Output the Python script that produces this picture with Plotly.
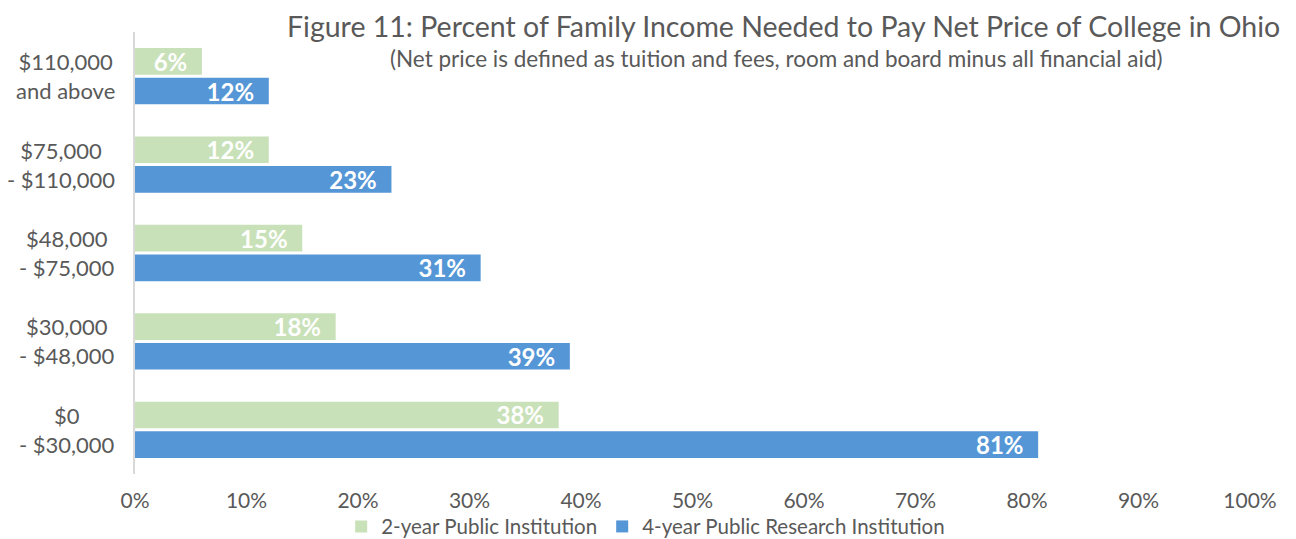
import plotly.graph_objects as go

categories = ["$110,000<br>and above", "$75,000<br>- $110,000", "$48,000<br>- $75,000",
              "$30,000<br>- $48,000", "$0<br>- $30,000"]
two_year = [6, 12, 15, 18, 38]
four_year = [12, 23, 31, 39, 81]
x_ticks = [0, 10, 20, 30, 40, 50, 60, 70, 80, 90, 100]
x_tick_labels = [f"{v}%" for v in x_ticks]

FONT = "Lato"
GREY = "#595959"
PAD = "\u00a0\u00a0"

fig = go.Figure()
fig.add_trace(go.Bar(
    y=categories, x=two_year, orientation="h", name="2-year Public Institution",
    marker=dict(color="#C9E1B9", line=dict(width=0)),
    text=[f"{v}%{PAD}" for v in two_year], textposition="inside", insidetextanchor="end",
    textfont=dict(family=FONT, size=24, color="white", weight="bold"),
    constraintext="none",
))
fig.add_trace(go.Bar(
    y=categories, x=four_year, orientation="h", name="4-year Public Research Institution",
    marker=dict(color="#5596D6", line=dict(width=0)),
    text=[f"{v}%{PAD}" for v in four_year], textposition="inside", insidetextanchor="end",
    textfont=dict(family=FONT, size=24, color="white", weight="bold"),
    constraintext="none",
))

annotations = [
    dict(text="Figure 11: Percent of Family Income Needed to Pay Net Price of College in Ohio",
         xref="paper", yref="paper", x=1.029, y=1.0125, xanchor="right", yanchor="middle",
         showarrow=False, font=dict(family=FONT, size=28.5, color=GREY)),
    dict(text="(Net price is defined as tuition and fees, room and board minus all financial aid)",
         xref="paper", yref="paper", x=0.575, y=0.941, xanchor="center", yanchor="middle",
         showarrow=False, font=dict(family=FONT, size=22.5, color=GREY)),
]
for c in categories:
    annotations.append(dict(text=c, xref="paper", yref="y", x=-0.016, y=c,
                            xanchor="right", yanchor="middle", align="center",
                            showarrow=False, font=dict(family=FONT, size=22, color=GREY)))

fig.update_layout(
    width=1280, height=531,
    margin=dict(l=127, r=38, t=24, b=65, autoexpand=False),
    paper_bgcolor="white", plot_bgcolor="white",
    barmode="group", bargap=0.33, bargroupgap=0.1,
    font=dict(family=FONT, color=GREY),
    uniformtext=dict(mode=False),
    xaxis=dict(range=[0, 100], tickvals=x_ticks, ticktext=x_tick_labels,
               showgrid=False, zeroline=False, showline=False, automargin=False,
               tickfont=dict(size=21, color=GREY), ticklabelstandoff=12),
    yaxis=dict(autorange="reversed", showgrid=False, zeroline=False,
               showline=True, linecolor="#D9D9D9", linewidth=2,
               showticklabels=False, ticks="", automargin=False),
    legend=dict(orientation="h", x=0.458, xanchor="center", y=-0.119, yanchor="middle",
                bgcolor="rgba(0,0,0,0)",
                font=dict(size=20.5, color=GREY), itemwidth=30, tracegroupgap=0),
    annotations=annotations,
)

fig.write_html("out.html")
